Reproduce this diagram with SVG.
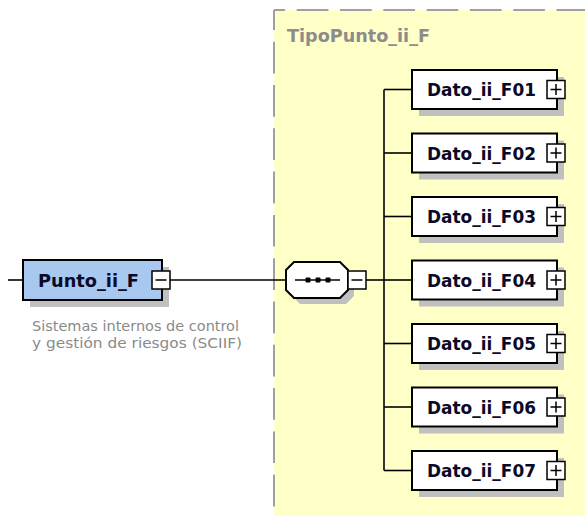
<svg xmlns="http://www.w3.org/2000/svg" width="585" height="516" viewBox="0 0 585 516">
  <style>
    .shadow { fill: #c0c0c0; stroke: none; }
    .box { fill: #ffffff; stroke: #000000; stroke-width: 2; }
    .elem { fill: #a8c8f0; stroke: #000000; stroke-width: 2; }
    .btn { fill: #ffffff; stroke: #000000; stroke-width: 1.5; }
    .sign { stroke: #000000; stroke-width: 1.5; fill: none; }
    .conn { stroke: #000000; stroke-width: 1.6; fill: none; }
    .name { font-family: "DejaVu Sans", Verdana, sans-serif; font-weight: bold; font-size: 18px; fill: #0a0a28; }
    .title { font-family: "DejaVu Sans", Verdana, sans-serif; font-weight: bold; font-size: 18px; fill: #8c8c8c; }
    .doc { font-family: "DejaVu Sans", Verdana, sans-serif; font-size: 14px; fill: #8a8a8a; }
    .dash { stroke: #a0a0a0; stroke-width: 2; stroke-dasharray: 31.7 11.6; fill: none; }
  </style>
  <rect width="585" height="516" fill="#ffffff"/>

  <g id="TipoPunto_ii_F">
    <rect x="274" y="10" width="311" height="506" fill="#ffffc8"/>
    <line class="dash" x1="274" y1="10" x2="585" y2="10" stroke-dashoffset="20.6"/>
    <line class="dash" x1="274" y1="10" x2="274" y2="516" stroke-dashoffset="11.6"/>
    <text class="title" x="287" y="41.5" textLength="143" lengthAdjust="spacingAndGlyphs">TipoPunto_ii_F</text>
  </g>

  <g id="connectors">
    <line class="conn" x1="8" y1="280" x2="23" y2="280"/>
    <line class="conn" x1="170" y1="280" x2="286" y2="280"/>
    <line class="conn" x1="366" y1="280" x2="384" y2="280"/>
    <line class="conn" x1="384" y1="89.5" x2="384" y2="470.5"/>
    <line class="conn" x1="384" y1="89.5" x2="412" y2="89.5"/>
    <line class="conn" x1="384" y1="153" x2="412" y2="153"/>
    <line class="conn" x1="384" y1="216.5" x2="412" y2="216.5"/>
    <line class="conn" x1="384" y1="280" x2="412" y2="280"/>
    <line class="conn" x1="384" y1="343.5" x2="412" y2="343.5"/>
    <line class="conn" x1="384" y1="407" x2="412" y2="407"/>
    <line class="conn" x1="384" y1="470.5" x2="412" y2="470.5"/>
  </g>

  <g id="Punto_ii_F">
    <rect class="shadow" x="30" y="267" width="139" height="40"/>
    <rect class="elem" x="23" y="260" width="139" height="40"/>
    <text class="name" x="38" y="287" textLength="101" lengthAdjust="spacingAndGlyphs">Punto_ii_F</text>
    <rect class="btn" x="152" y="271" width="18" height="18"/>
    <line class="sign" x1="155.5" y1="280" x2="166.5" y2="280"/>
    <text class="doc" x="32" y="331" textLength="207" lengthAdjust="spacingAndGlyphs">Sistemas internos de control</text>
    <text class="doc" x="32" y="348" textLength="210" lengthAdjust="spacingAndGlyphs">y gestión de riesgos (SCIIF)</text>
  </g>

  <g id="sequence">
    <path class="shadow" d="M300,268 L346,268 L354,276 L354,296 L346,304 L300,304 L292,296 L292,276 Z"/>
    <path class="box" d="M294,262 L340,262 L348,270 L348,290 L340,298 L294,298 L286,290 L286,270 Z"/>
    <line class="sign" x1="295" y1="280" x2="340" y2="280"/>
    <rect x="305.5" y="277.5" width="5" height="5" rx="1" fill="#000"/>
    <rect x="315.5" y="277.5" width="5" height="5" rx="1" fill="#000"/>
    <rect x="325.5" y="277.5" width="5" height="5" rx="1" fill="#000"/>
    <rect class="btn" x="348" y="271" width="18" height="18"/>
    <line class="sign" x1="351.5" y1="280" x2="362.5" y2="280"/>
  </g>

  <g id="Dato_ii_F01">
    <rect class="shadow" x="419" y="77" width="145" height="39"/>
    <rect class="box" x="412" y="70" width="145" height="39"/>
    <text class="name" x="427" y="96" textLength="109" lengthAdjust="spacingAndGlyphs">Dato_ii_F01</text>
    <rect class="btn" x="547" y="80.5" width="18" height="18"/>
    <path class="sign" d="M550.5,89.5 H561.5 M556,84 V95"/>
  </g>
  <g id="Dato_ii_F02">
    <rect class="shadow" x="419" y="140.5" width="145" height="39"/>
    <rect class="box" x="412" y="133.5" width="145" height="39"/>
    <text class="name" x="427" y="159.5" textLength="109" lengthAdjust="spacingAndGlyphs">Dato_ii_F02</text>
    <rect class="btn" x="547" y="144" width="18" height="18"/>
    <path class="sign" d="M550.5,153 H561.5 M556,147.5 V158.5"/>
  </g>
  <g id="Dato_ii_F03">
    <rect class="shadow" x="419" y="204" width="145" height="39"/>
    <rect class="box" x="412" y="197" width="145" height="39"/>
    <text class="name" x="427" y="223" textLength="109" lengthAdjust="spacingAndGlyphs">Dato_ii_F03</text>
    <rect class="btn" x="547" y="207.5" width="18" height="18"/>
    <path class="sign" d="M550.5,216.5 H561.5 M556,211 V222"/>
  </g>
  <g id="Dato_ii_F04">
    <rect class="shadow" x="419" y="267.5" width="145" height="39"/>
    <rect class="box" x="412" y="260.5" width="145" height="39"/>
    <text class="name" x="427" y="286.5" textLength="109" lengthAdjust="spacingAndGlyphs">Dato_ii_F04</text>
    <rect class="btn" x="547" y="271" width="18" height="18"/>
    <path class="sign" d="M550.5,280 H561.5 M556,274.5 V285.5"/>
  </g>
  <g id="Dato_ii_F05">
    <rect class="shadow" x="419" y="331" width="145" height="39"/>
    <rect class="box" x="412" y="324" width="145" height="39"/>
    <text class="name" x="427" y="350" textLength="109" lengthAdjust="spacingAndGlyphs">Dato_ii_F05</text>
    <rect class="btn" x="547" y="334.5" width="18" height="18"/>
    <path class="sign" d="M550.5,343.5 H561.5 M556,338 V349"/>
  </g>
  <g id="Dato_ii_F06">
    <rect class="shadow" x="419" y="394.5" width="145" height="39"/>
    <rect class="box" x="412" y="387.5" width="145" height="39"/>
    <text class="name" x="427" y="413.5" textLength="109" lengthAdjust="spacingAndGlyphs">Dato_ii_F06</text>
    <rect class="btn" x="547" y="398" width="18" height="18"/>
    <path class="sign" d="M550.5,407 H561.5 M556,401.5 V412.5"/>
  </g>
  <g id="Dato_ii_F07">
    <rect class="shadow" x="419" y="458" width="145" height="39"/>
    <rect class="box" x="412" y="451" width="145" height="39"/>
    <text class="name" x="427" y="477" textLength="109" lengthAdjust="spacingAndGlyphs">Dato_ii_F07</text>
    <rect class="btn" x="547" y="461.5" width="18" height="18"/>
    <path class="sign" d="M550.5,470.5 H561.5 M556,465 V476"/>
  </g>
</svg>
